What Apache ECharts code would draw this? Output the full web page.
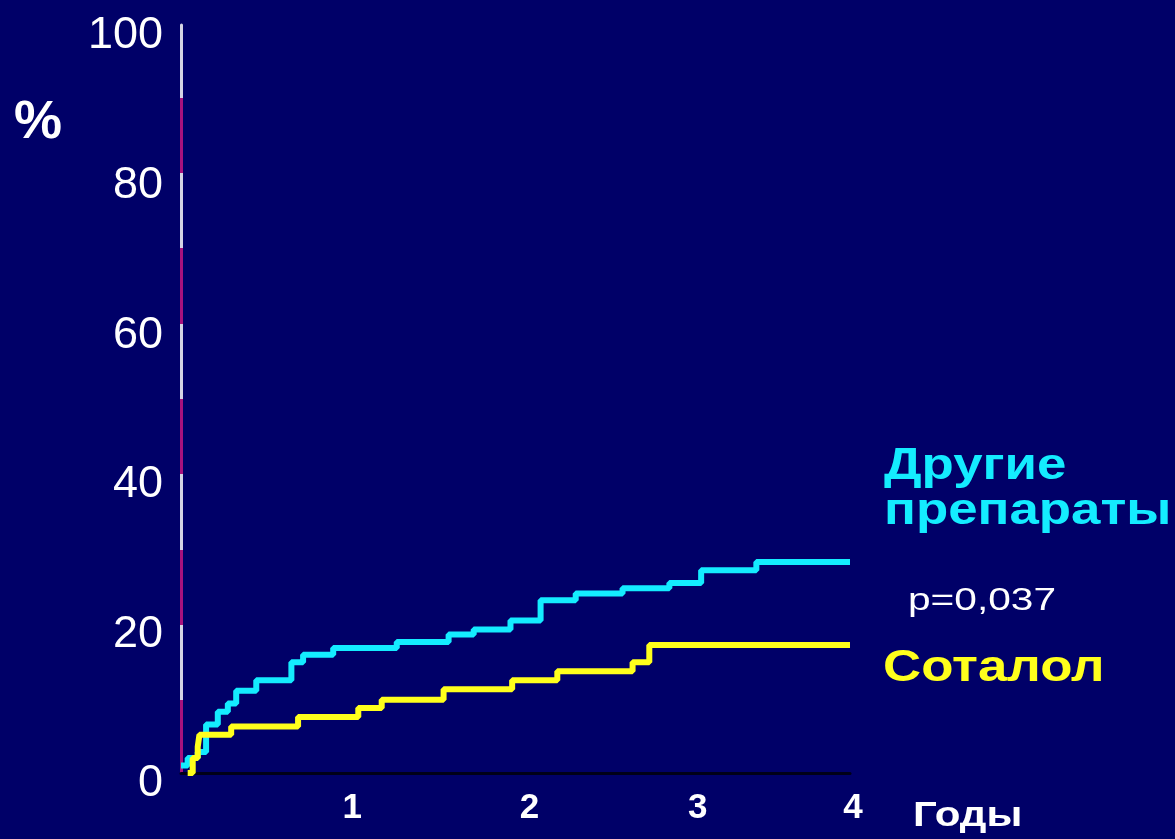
<!DOCTYPE html>
<html>
<head>
<meta charset="utf-8">
<script src="https://cdn.jsdelivr.net/npm/echarts@6/dist/echarts.min.js"></script>
<style>
html,body{margin:0;padding:0;background:#000068;}
#chart{width:1175px;height:839px;}
</style>
</head>
<body>
<div id="chart"></div>
<script>
// Years since start (x) and cumulative % (y)
const otherYears = [0, 0.04, 0.10, 0.15, 0.22, 0.28, 0.33, 0.45, 0.66, 0.73, 0.91, 1.29, 1.60, 1.75, 1.97, 2.15, 2.36, 2.64, 2.92, 3.11, 3.44, 4.0];
const otherPct   = [1.0, 2.0, 2.8, 6.5, 8.2, 9.3, 11.0, 12.4, 14.8, 15.8, 16.7, 17.5, 18.5, 19.2, 20.4, 23.1, 24.0, 24.7, 25.4, 27.1, 28.2, 28.2];
const sotalolYears = [0.04, 0.07, 0.10, 0.11, 0.30, 0.70, 1.06, 1.20, 1.57, 1.98, 2.25, 2.70, 2.80, 4.0];
const sotalolPct   = [0.0, 2.0, 3.5, 5.1, 6.2, 7.5, 8.7, 9.8, 11.2, 12.4, 13.6, 14.8, 17.1, 17.1];
const xTicks = [0, 1, 2, 3, 4];
const yTicks = [0, 20, 40, 60, 80, 100];
const labelOther = ['Другие', 'препараты'];
const labelSotalol = 'Соталол';
const pValue = 'p=0,037';
const yUnit = '%';
const xUnit = 'Годы';

const pair = (xs, ys) => xs.map((x, i) => [x, ys[i]]);

// alternating white / magenta axis segments (every 10 units)
const segStops = [];
for (let i = 0; i < 10; i++) {
  const c = i % 2 === 0 ? '#d4d4e4' : '#a8127e';
  segStops.push({offset: i / 10, color: c});
  segStops.push({offset: (i + 1) / 10, color: c});
}

const FONT = 'Liberation Sans, Arial, sans-serif';
const chart = echarts.init(document.getElementById('chart'));
const xPad = {1: 8, 2: 28, 3: 30, 4: 6};
const rich = {};
xTicks.forEach(v => { rich['t' + v] = {fontSize: 35, fontWeight: 'bold', color: '#ffffff', fontFamily: FONT, padding: [0, 0, 0, xPad[v] || 0]}; });

chart.setOption({
  backgroundColor: '#000068',
  animation: false,
  grid: {left: 181, right: 325, top: 25, bottom: 66, containLabel: false},
  xAxis: {
    type: 'value', min: xTicks[0], max: xTicks[xTicks.length - 1], interval: 1,
    axisLine: {show: true, onZero: false, lineStyle: {color: '#000018', width: 3}},
    axisTick: {show: false},
    splitLine: {show: false},
    axisLabel: {
      margin: 18, color: '#ffffff', fontSize: 35, fontWeight: 'bold', fontFamily: FONT,
      formatter: v => v === 0 ? '' : '{t' + v + '|' + v + '}', rich: rich
    }
  },
  yAxis: {
    type: 'value', min: yTicks[0], max: yTicks[yTicks.length - 1], interval: 20,
    axisLine: {show: true, onZero: false, lineStyle: {width: 3, color: new echarts.graphic.LinearGradient(0, 0, 0, 1, segStops)}},
    axisTick: {show: false},
    splitLine: {show: false},
    axisLabel: {
      margin: 18, color: '#ffffff', fontSize: 45, fontFamily: FONT,
      formatter: v => '{y|' + v + '}',
      rich: {y: {fontSize: 45, color: '#ffffff', fontFamily: FONT, padding: [22, 0, 0, 0]}}
    }
  },
  series: [
    {type: 'line', step: 'end', data: pair(otherYears, otherPct), showSymbol: false, symbol: 'none',
     lineStyle: {color: '#14ecff', width: 6}, z: 3},
    {type: 'line', step: 'end', data: pair(sotalolYears, sotalolPct), showSymbol: false, symbol: 'none',
     lineStyle: {color: '#ffff1c', width: 6}, z: 4}
  ],
  graphic: [
    {type: 'text', x: 38, y: 123, style: {text: yUnit, fill: '#ffffff', font: 'bold 54px ' + FONT, textAlign: 'center', textVerticalAlign: 'middle'}},
    {type: 'text', x: 913, y: 816, scaleX: 1.2, style: {text: xUnit, fill: '#ffffff', font: 'bold 35px ' + FONT, textAlign: 'left', textVerticalAlign: 'middle'}},
    {type: 'text', x: 884, y: 467, scaleX: 1.2, style: {text: labelOther[0], fill: '#14ecff', font: 'bold 44px ' + FONT, textAlign: 'left', textVerticalAlign: 'middle'}},
    {type: 'text', x: 884, y: 512, scaleX: 1.2, style: {text: labelOther[1], fill: '#14ecff', font: 'bold 44px ' + FONT, textAlign: 'left', textVerticalAlign: 'middle'}},
    {type: 'text', x: 908, y: 601, scaleX: 1.27, style: {text: pValue, fill: '#ffffff', font: '32px ' + FONT, textAlign: 'left', textVerticalAlign: 'middle'}},
    {type: 'text', x: 883, y: 669, scaleX: 1.2, style: {text: labelSotalol, fill: '#ffff1c', font: 'bold 44px ' + FONT, textAlign: 'left', textVerticalAlign: 'middle'}}
  ]
});
</script>
</body>
</html>
